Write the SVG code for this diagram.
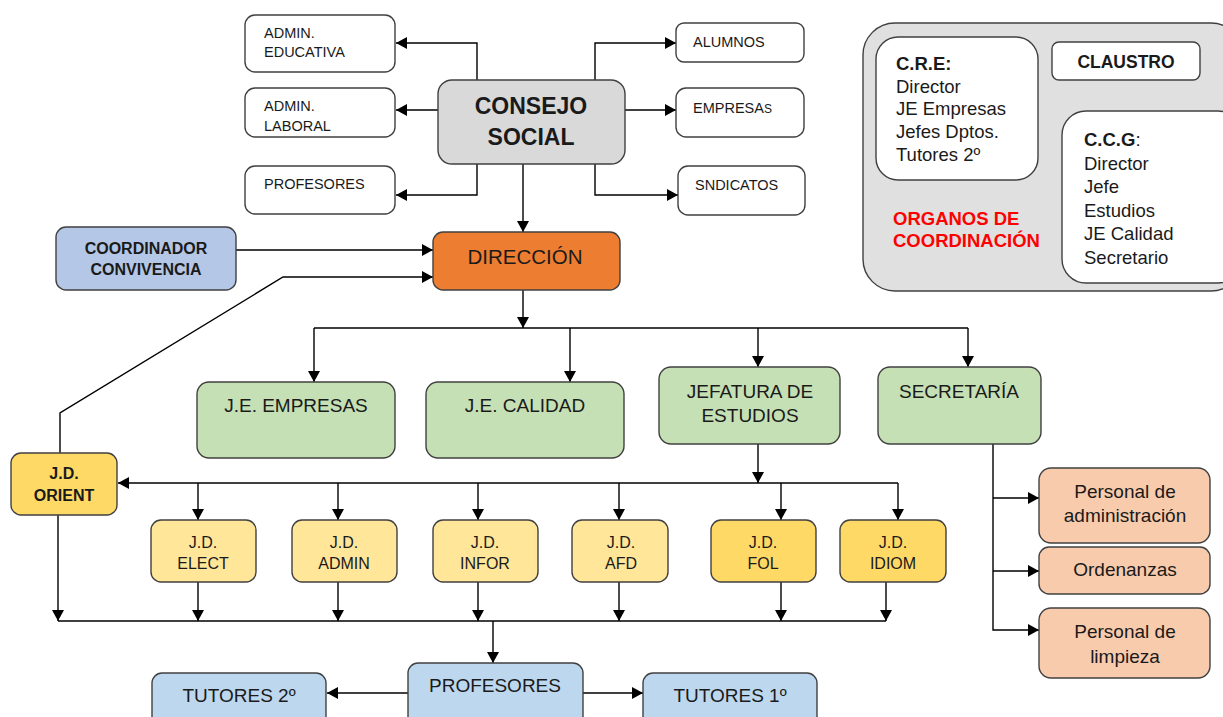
<svg xmlns="http://www.w3.org/2000/svg" width="1223" height="717" viewBox="0 0 1223 717">
<defs>
<marker id="arr" markerUnits="userSpaceOnUse" markerWidth="12" markerHeight="12" refX="11" refY="6" orient="auto">
<path d="M0,0 L11,6 L0,12 z" fill="#000"/>
</marker>
<style>
text{font-family:"Liberation Sans",Arial,sans-serif;fill:#1a1a1a}
.box{stroke:#404040;stroke-width:1.4}
.w{fill:#fff}
.c{stroke:#000;stroke-width:1.4;fill:none}
.a{marker-end:url(#arr)}
.s{font-size:14.5px}
.m{font-size:16px;text-anchor:middle}
.l{font-size:19px;text-anchor:middle}
.b{font-weight:bold}
.g{fill:#c5e0b4}
.y1{fill:#ffe699}
.y2{fill:#ffd966}
.bl{fill:#bdd7ee}
.o{fill:#f8cbad}
</style>
</defs>
<rect width="1223" height="717" fill="#fff"/>

<g id="connectors">
<path class="c a" d="M477,80 V43 H396"/>
<path class="c a" d="M438,110 H396"/>
<path class="c a" d="M477,164 V195 H396"/>
<path class="c a" d="M595,80 V43 H676"/>
<path class="c a" d="M625,110 H676"/>
<path class="c a" d="M595,164 V195 H678"/>
<path class="c a" d="M523,164 V232"/>
<path class="c a" d="M236,250 H433"/>
<path class="c a" d="M60,453 V413 L283,277 H433"/>
<path class="c a" d="M523,290 V328"/>
<path class="c" d="M314,328 H968"/>
<path class="c a" d="M314,328 V382"/>
<path class="c a" d="M570,328 V382"/>
<path class="c a" d="M758,328 V367"/>
<path class="c a" d="M968,328 V367"/>
<path class="c a" d="M758,444 V483"/>
<path class="c a" d="M898,483 H118"/>
<path class="c a" d="M198,483 V520"/>
<path class="c a" d="M338,483 V520"/>
<path class="c a" d="M478,483 V520"/>
<path class="c a" d="M619,483 V520"/>
<path class="c a" d="M781,483 V520"/>
<path class="c a" d="M898,483 V520"/>
<path class="c a" d="M58,515 V621"/>
<path class="c a" d="M198,582 V621"/>
<path class="c a" d="M338,582 V621"/>
<path class="c a" d="M478,582 V621"/>
<path class="c a" d="M619,582 V621"/>
<path class="c a" d="M781,582 V621"/>
<path class="c a" d="M886,582 V621"/>
<path class="c" d="M58,621 H886"/>
<path class="c a" d="M493,621 V663"/>
<path class="c a" d="M408,693 H327"/>
<path class="c a" d="M583,693 H643"/>
<path class="c a" d="M993,444 V630 H1039"/>
<path class="c a" d="M993,498 H1039"/>
<path class="c a" d="M993,571 H1039"/>
</g>

<g id="admin-educativa"><rect class="box w" x="245" y="15" width="150" height="57" rx="10"/><text class="s" x="264" y="38">ADMIN.</text><text class="s" x="264" y="57">EDUCATIVA</text></g>
<g id="admin-laboral"><rect class="box w" x="245" y="88" width="150" height="49" rx="10"/><text class="s" x="264" y="111">ADMIN.</text><text class="s" x="264" y="131">LABORAL</text></g>
<g id="profesores-cs"><rect class="box w" x="245" y="166" width="150" height="48" rx="10"/><text class="s" x="264" y="189">PROFESORES</text></g>
<g id="consejo-social"><rect class="box" fill="#d9d9d9" x="438" y="80" width="187" height="84" rx="14"/><text class="b" x="531" y="114" font-size="23" text-anchor="middle">CONSEJO</text><text class="b" x="531" y="145" font-size="23" text-anchor="middle">SOCIAL</text></g>
<g id="alumnos"><rect class="box w" x="676" y="23" width="128" height="39" rx="8"/><text class="s" x="693" y="47">ALUMNOS</text></g>
<g id="empresas"><rect class="box w" x="676" y="88" width="128" height="49" rx="10"/><text class="s" x="693" y="113">EMPRESA<tspan font-size="12">S</tspan></text></g>
<g id="sindicatos"><rect class="box w" x="678" y="166" width="127" height="49" rx="10"/><text class="s" x="695" y="190">SNDICATOS</text></g>

<g id="direccion"><rect class="box" fill="#ed7d31" x="433" y="232" width="187" height="58" rx="10"/><text x="525" y="264" font-size="20.5" text-anchor="middle">DIRECCIÓN</text></g>
<g id="coordinador"><rect class="box" fill="#b4c7e7" x="56" y="227" width="180" height="63" rx="10"/><text class="b" x="146" y="254" font-size="16" text-anchor="middle">COORDINADOR</text><text class="b" x="146" y="275" font-size="16" text-anchor="middle">CONVIVENCIA</text></g>

<g id="je-empresas"><rect class="box g" x="197" y="382" width="198" height="76" rx="12"/><text class="l" x="296" y="412">J.E. EMPRESAS</text></g>
<g id="je-calidad"><rect class="box g" x="426" y="382" width="198" height="76" rx="12"/><text class="l" x="525" y="412">J.E. CALIDAD</text></g>
<g id="jefatura"><rect class="box g" x="659" y="367" width="181" height="77" rx="12"/><text class="l" x="750" y="398">JEFATURA DE</text><text class="l" x="750" y="422">ESTUDIOS</text></g>
<g id="secretaria"><rect class="box g" x="878" y="367" width="163" height="77" rx="12"/><text class="l" x="959" y="398">SECRETARÍA</text></g>

<g id="jd-orient"><rect class="box y2" x="11" y="453" width="106" height="62" rx="10"/><text class="m b" x="64" y="479">J.D.</text><text class="m b" x="64" y="501">ORIENT</text></g>
<g id="jd-elect"><rect class="box y1" x="151" y="520" width="105" height="62" rx="10"/><text class="m" x="203" y="548">J.D.</text><text class="m" x="203" y="569">ELECT</text></g>
<g id="jd-admin"><rect class="box y1" x="292" y="520" width="105" height="62" rx="10"/><text class="m" x="344" y="548">J.D.</text><text class="m" x="344" y="569">ADMIN</text></g>
<g id="jd-infor"><rect class="box y1" x="433" y="520" width="105" height="62" rx="10"/><text class="m" x="485" y="548">J.D.</text><text class="m" x="485" y="569">INFOR</text></g>
<g id="jd-afd"><rect class="box y1" x="572" y="520" width="96" height="62" rx="10"/><text class="m" x="621" y="548">J.D.</text><text class="m" x="621" y="569">AFD</text></g>
<g id="jd-fol"><rect class="box y2" x="711" y="520" width="105" height="62" rx="10"/><text class="m" x="763" y="548">J.D.</text><text class="m" x="763" y="569">FOL</text></g>
<g id="jd-idiom"><rect class="box y2" x="840" y="520" width="106" height="62" rx="10"/><text class="m" x="893" y="548">J.D.</text><text class="m" x="893" y="569">IDIOM</text></g>

<g id="profesores"><rect class="box bl" x="408" y="663" width="175" height="64" rx="10"/><text class="l" x="495" y="692">PROFESORES</text></g>
<g id="tutores2"><rect class="box bl" x="152" y="673" width="174" height="54" rx="10"/><text class="l" x="239" y="702">TUTORES 2º</text></g>
<g id="tutores1"><rect class="box bl" x="643" y="673" width="174" height="54" rx="10"/><text class="l" x="730" y="702">TUTORES 1º</text></g>

<g id="personal-admin"><rect class="box o" x="1039" y="468" width="171" height="75" rx="12"/><text class="l" x="1125" y="498">Personal de</text><text class="l" x="1125" y="522">administración</text></g>
<g id="ordenanzas"><rect class="box o" x="1039" y="547" width="171" height="47" rx="10"/><text class="l" x="1125" y="576">Ordenanzas</text></g>
<g id="personal-limpieza"><rect class="box o" x="1039" y="608" width="171" height="70" rx="12"/><text class="l" x="1125" y="638">Personal de</text><text class="l" x="1125" y="663">limpieza</text></g>

<g id="organos">
<rect class="box" fill="#e0e0e0" x="863" y="23" width="380" height="268" rx="32"/>
<rect class="box w" x="876" y="37" width="162" height="143" rx="22"/>
<text x="896" y="70" font-size="18.5" font-weight="bold">C.R.E:</text>
<text x="896" y="93" font-size="18.5">Director</text>
<text x="896" y="115" font-size="18.5">JE Empresas</text>
<text x="896" y="138" font-size="18.5">Jefes Dptos.</text>
<text x="896" y="161" font-size="18.5">Tutores 2º</text>
<rect class="box w" x="1052" y="42" width="148" height="38" rx="7"/>
<text x="1126" y="68" font-size="17.5" font-weight="bold" text-anchor="middle">CLAUSTRO</text>
<rect class="box w" x="1062" y="111" width="180" height="172" rx="24"/>
<text x="1084" y="146" font-size="18.5"><tspan font-weight="bold">C.C.G</tspan>:</text>
<text x="1084" y="170" font-size="18.5">Director</text>
<text x="1084" y="193" font-size="18.5">Jefe</text>
<text x="1084" y="217" font-size="18.5">Estudios</text>
<text x="1084" y="240" font-size="18.5">JE Calidad</text>
<text x="1084" y="264" font-size="18.5">Secretario</text>
<text x="893" y="225" font-size="18.5" font-weight="bold" style="fill:#ff0000">ORGANOS DE</text>
<text x="893" y="247" font-size="18.5" font-weight="bold" style="fill:#ff0000">COORDINACIÓN</text>
</g>
</svg>
